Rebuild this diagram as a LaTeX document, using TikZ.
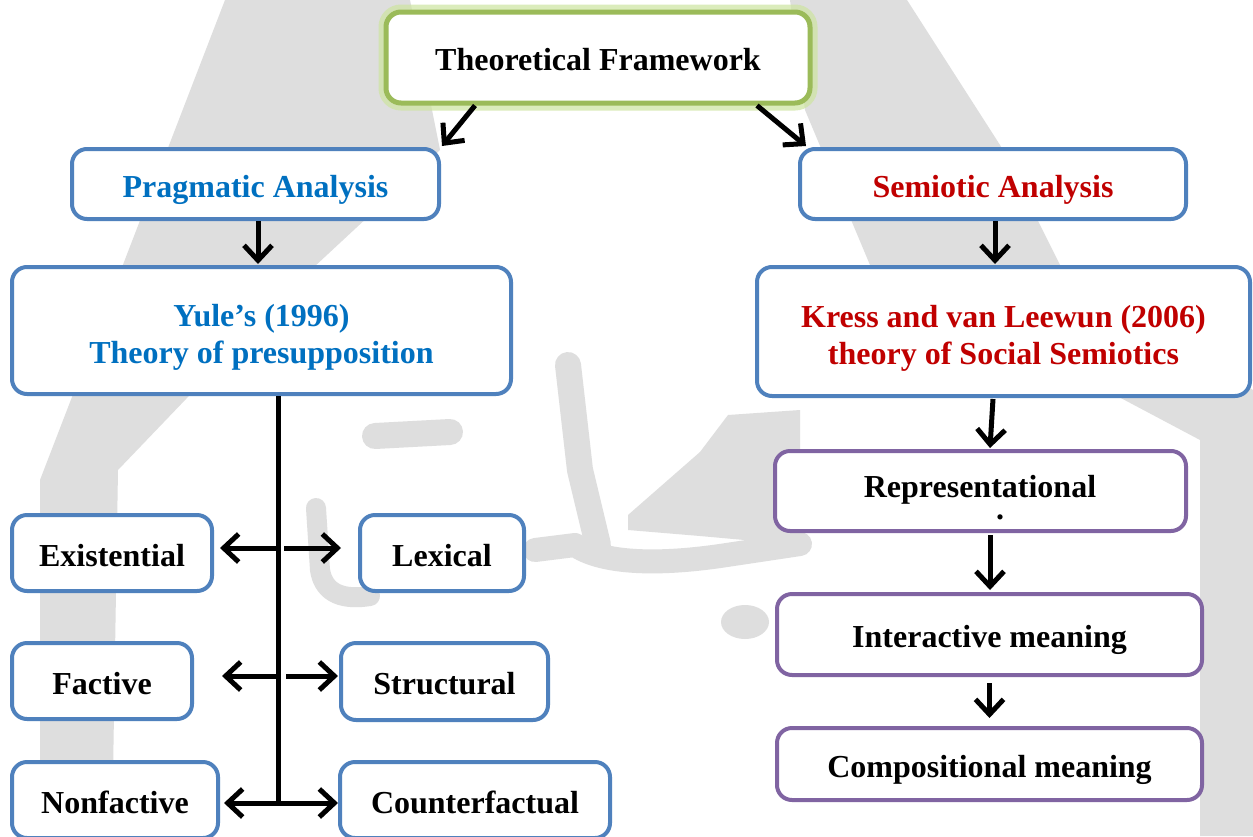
\documentclass[tikz,border=0pt]{standalone}
\usepackage{fontspec}
\setmainfont{Liberation Serif}
\usetikzlibrary{arrows.meta}
\definecolor{bblue}{RGB}{79,129,189}
\definecolor{tblue}{RGB}{0,112,192}
\definecolor{tred}{RGB}{192,0,0}
\definecolor{ppurple}{RGB}{128,100,162}
\definecolor{ggreen}{RGB}{155,187,89}
\definecolor{gglow}{RGB}{205,228,160}
\definecolor{wm}{RGB}{222,222,222}
\begin{document}
\begin{tikzpicture}[x=1pt,y=-1pt,
  boxfont/.style={font=\fontsize{32}{37}\selectfont\bfseries},
  frame/.style={draw=bblue, line width=4pt, rounded corners=15pt, fill=white, inner sep=0pt},
  box/.style={frame, boxfont, text height=26pt, text depth=0pt},
  pbox/.style={box, draw=ppurple},
  pframe/.style={frame, draw=ppurple},
  gbox/.style={box, draw=ggreen, line width=5pt, preaction={draw=gglow, line width=15pt, opacity=0.7}},
  arr/.style={line width=5pt, -{Straight Barb[length=15pt,width=28pt]}},
  wmk/.style={draw=wm, line cap=round, line join=round}]
\useasboundingbox (0,0) rectangle (1253,836);
\fill[white] (0,0) rectangle (1253,836);
% watermark
\fill[wm] (225,0) -- (410,0) -- (440,150) -- (300,280) -- (118,470) -- (112,836) -- (40,836) -- (40,480) -- cycle;
\fill[wm] (790,0) -- (907,0) -- (1000,145) -- (1060,265) -- (1253,390) -- (1253,836) -- (1200,836) -- (1200,440) -- (870,265) -- (805,110) -- cycle;
\draw[wmk, line width=26pt] (375,436) -- (450,432);
\draw[wmk, line width=20pt] (316,508) -- (320,570) .. controls (324,595) and (345,600) .. (370,596);
\draw[wmk, line width=26pt] (568,365) -- (580,470) -- (598,545);
\draw[wmk, line width=24pt] (535,550) -- (575,545) .. controls (600,562) and (650,566) .. (720,556) -- (800,544);
\fill[wm] (628,515) -- (700,452) -- (728,415) -- (800,410) -- (800,545) -- (700,536) -- (628,530) -- cycle;
\fill[wm] (745,622) ellipse [x radius=24, y radius=17];
% nodes
\node[gbox, minimum width=424pt, minimum height=91pt] (tf) at (598,57.5) {Theoretical Framework};
\node[box, text=tblue, minimum width=367pt, minimum height=70pt] (prag) at (255.5,184) {Pragmatic Analysis};
\node[box, text=tred, minimum width=386pt, minimum height=70pt] (sem) at (993,184) {Semiotic Analysis};
\node[frame, minimum width=499pt, minimum height=127pt] (yule) at (261.5,330.5) {};
\node[boxfont, align=center, text=tblue, inner sep=0pt] (yuletext) at ([yshift=-6.5pt]yule.center) {Yule’s (1996)\\Theory of presupposition};
\node[frame, minimum width=493pt, minimum height=129pt] (kress) at (1003.5,331.5) {};
\node[boxfont, align=center, text=tred, inner sep=0pt] (kresstext) at ([yshift=-6.5pt]kress.center) {Kress and van Leewun (2006)\\theory of Social Semiotics};
\node[pframe, minimum width=411pt, minimum height=80pt] (rep) at (980.5,491) {};
\node[boxfont, inner sep=0pt] (reptext) at (980,490) {Representational};
\node[boxfont, inner sep=0pt] (repdot) at (1000,517) {.};
\node[pbox, minimum width=425pt, minimum height=81pt] (inter) at (989.5,634.5) {Interactive meaning};
\node[pbox, minimum width=425pt, minimum height=72pt] (comp) at (989.5,764) {Compositional meaning};
\node[box, minimum width=200pt, minimum height=76pt] (exist) at (112,553) {Existential};
\node[box, minimum width=164pt, minimum height=76pt] (lex) at (442,553) {Lexical};
\node[box, minimum width=180pt, minimum height=76pt] (fact) at (102,681) {Factive};
\node[box, minimum width=207pt, minimum height=77pt] (struct) at (444.5,681.5) {Structural};
\node[box, minimum width=206pt, minimum height=76pt] (nonf) at (115,800) {Nonfactive};
\node[box, minimum width=270pt, minimum height=76pt] (counter) at (475,800) {Counterfactual};
% connectors
\draw[arr] ([xshift=-123pt]tf.south) -- ([xshift=1pt,yshift=1pt]prag.north east);
\draw[arr] ([xshift=159pt]tf.south) -- ([xshift=8pt,yshift=1pt]sem.north west);
\draw[arr] ([xshift=2.5pt]prag.south) -- ([xshift=-3.5pt,yshift=1pt]yule.north);
\draw[arr] ([xshift=2pt]sem.south) -- ([xshift=-8.5pt,yshift=1pt]kress.north);
\draw[arr] ([xshift=-10.5pt,yshift=-1pt]kress.south) -- ([xshift=9.5pt,yshift=1pt]rep.north);
\draw[arr] ([xshift=9.5pt,yshift=-2pt]rep.south) -- ([xshift=0.5pt,yshift=2pt]inter.north);
\draw[arr] ([yshift=-6pt]inter.south) -- ([yshift=8pt]comp.north);
% tree
\coordinate (trunk) at ([xshift=16.5pt]yule.south);
\coordinate (b1) at (278,548);
\coordinate (b2) at (278,676);
\coordinate (b3) at (276,803);
\draw[line width=5pt] (trunk) -- (trunk |- b3);
\draw[arr, shorten >=6pt] (b1) -- (b1 -| exist.east);
\draw[arr, shorten >=17pt] ([xshift=6pt]b1) -- (b1 -| lex.west);
\draw[arr, shorten >=28pt] (b2) -- (b2 -| fact.east);
\draw[arr, shorten >=1pt] ([xshift=8pt]b2) -- (b2 -| struct.west);
\draw[arr, shorten >=4pt] ([xshift=2pt]b3) -- (b3 -| nonf.east);
\draw[arr] (b3) -- (b3 -| counter.west);
\end{tikzpicture}
\end{document}
